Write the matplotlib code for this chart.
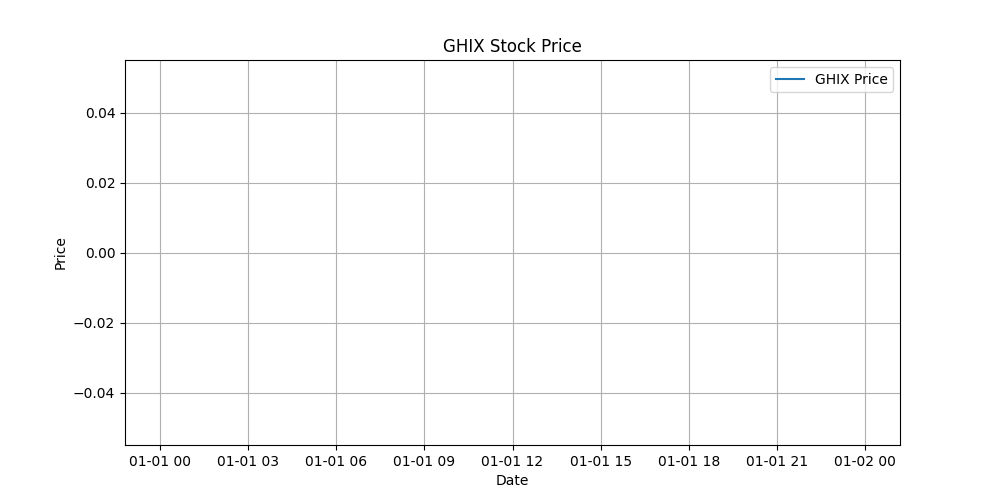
import matplotlib
matplotlib.use("Agg")
import matplotlib.pyplot as plt
import pandas as pd

# no price rows came back for GHIX, so the series is empty
dates = pd.to_datetime([])
prices = []

fig, ax = plt.subplots(figsize=(10, 5), dpi=100)
ax.plot(dates, prices, label="GHIX Price")
ax.xaxis_date()
ax.set_title("GHIX Stock Price")
ax.set_xlabel("Date")
ax.set_ylabel("Price")
ax.legend()
ax.grid(True)

fig.savefig("out.png")
